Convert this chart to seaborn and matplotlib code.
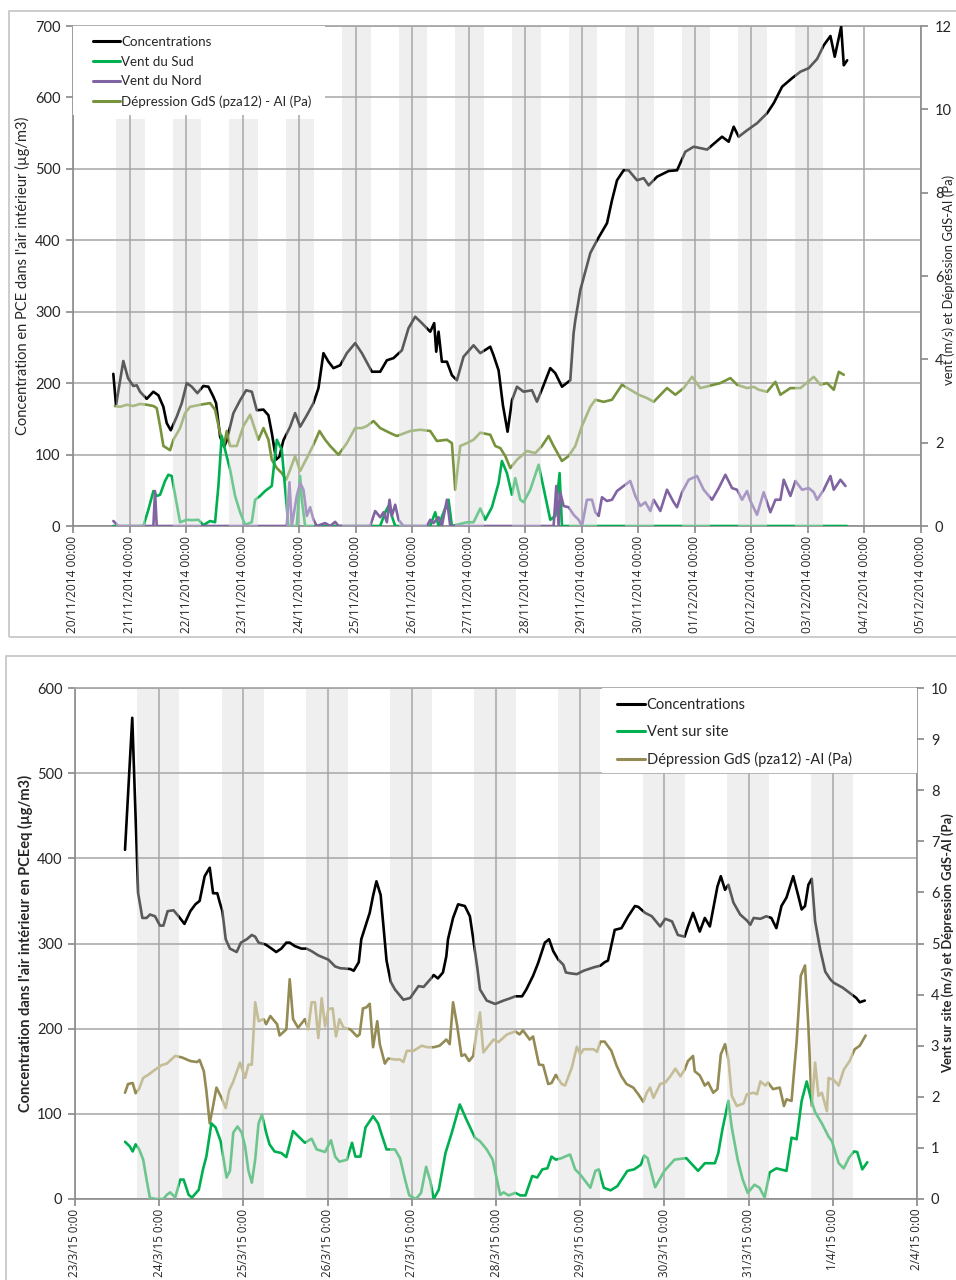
import numpy as np
import pandas as pd
import matplotlib
matplotlib.use("Agg")
import matplotlib.pyplot as plt
import matplotlib.dates as mdates
import seaborn as sns
from matplotlib.path import Path
from matplotlib.transforms import blended_transform_factory
from matplotlib.lines import Line2D
from matplotlib.patches import Rectangle

sns.set_theme(style="white")
plt.rcParams["font.family"] = ["Lato", "DejaVu Sans"]

# ---------------------------------------------------------------- data (top)
top_start = "2014-11-20"
top_xmin, top_xmax = "2014-11-20", "2014-12-05"
top_band_days = ["2014-11-%02d" % d for d in range(21, 31)] + ["2014-12-01", "2014-12-02", "2014-12-03"]

top_conc_t = [0.713, 0.761, 0.890, 0.973, 1.067, 1.127, 1.186, 1.304, 1.421, 1.510, 1.598, 1.658, 1.729, 1.835,
              1.924, 2.012, 2.101, 2.200, 2.306, 2.395, 2.483, 2.531, 2.602, 2.673, 2.720, 2.837, 2.956, 3.062,
              3.163, 3.251, 3.368, 3.457, 3.517, 3.593, 3.651, 3.722, 3.841, 3.929, 4.018, 4.136, 4.253, 4.342,
              4.430, 4.519, 4.607, 4.726, 4.844, 4.991, 5.110, 5.287, 5.434, 5.552, 5.669, 5.818, 5.935, 6.053,
              6.172, 6.319, 6.389, 6.425, 6.466, 6.525, 6.614, 6.703, 6.791, 6.908, 7.085, 7.204, 7.381, 7.439,
              7.528, 7.605, 7.687, 7.765, 7.853, 7.970, 8.119, 8.207, 8.324, 8.442, 8.531, 8.650, 8.796, 8.855,
              8.885, 8.944, 8.973, 9.150, 9.269, 9.446, 9.534, 9.623, 9.740, 9.828, 9.977, 10.094, 10.183,
              10.331, 10.536, 10.685, 10.832, 10.979, 11.216, 11.333, 11.481, 11.598, 11.687, 11.775, 11.924,
              12.101, 12.278, 12.395, 12.543, 12.720, 12.867, 13.014, 13.163, 13.280, 13.398, 13.474, 13.588,
              13.634, 13.694]
top_conc_v = [213, 169, 231, 207, 196, 197, 188, 178, 188, 183, 167, 144, 134, 153,
              172, 200, 195, 186, 196, 195, 181, 172, 125, 111, 120, 158, 176, 190,
              188, 162, 163, 155, 130, 93, 97, 120, 139, 158, 139, 155, 172, 193,
              242, 230, 221, 225, 242, 256, 242, 216, 216, 232, 235, 246, 277, 293,
              284, 272, 284, 244, 272, 230, 230, 211, 204, 237, 253, 242, 251, 239,
              218, 169, 132, 176, 195, 188, 190, 174, 197, 221, 214, 195, 204, 270,
              288, 316, 330, 382, 400, 424, 456, 484, 498, 498, 484, 487, 477,
              489, 497, 498, 524, 531, 527, 535, 545, 538, 559, 545, 554,
              564, 578, 592, 615, 627, 636, 641, 654, 673, 686, 657, 699,
              645, 652]

top_sud_t = [0.714, 1.245, 1.333, 1.422, 1.481, 1.540, 1.628, 1.687, 1.746, 1.805, 1.894, 2.012, 2.100, 2.218,
             2.307, 2.425, 2.513, 2.572, 2.631, 2.690, 2.779, 2.867, 2.956, 3.044, 3.162, 3.221, 3.310, 3.398,
             3.516, 3.605, 3.693, 3.770, 3.811, 3.958, 4.018, 4.047, 4.106, 5.434, 5.522, 5.581, 5.640, 5.699,
             6.319, 6.407, 6.466, 6.555, 6.643, 6.702, 6.968, 7.085, 7.204, 7.292, 7.410, 7.528, 7.587, 7.676,
             7.764, 7.823, 7.912, 7.971, 8.088, 8.236, 8.324, 8.442, 8.531, 8.607, 8.649, 13.69]
top_sud_v = [0, 0, 0.39, 0.84, 0.72, 0.75, 1.08, 1.23, 1.20, 0.75, 0.09, 0.15, 0.14, 0.15,
             0.02, 0.12, 0.09, 0.96, 2.16, 1.83, 1.35, 0.72, 0.33, 0.03, 0.09, 0.63, 0.72, 0.84,
             0.96, 2.07, 1.83, 0.63, 0, 0, 1.20, 0.63, 0, 0, 0.33, 0.48, 0.24, 0,
             0, 0.33, 0, 0.33, 0.63, 0, 0.09, 0.09, 0.42, 0.15, 0.45, 1.03, 1.56, 1.27,
             0.75, 1.15, 0.63, 0.57, 0.87, 1.47, 0.91, 0.15, 0.24, 1.27, 0, 0]

top_nord_t = [0.714, 0.802, 1.422, 1.451, 1.481, 3.782, 3.829, 3.870, 3.958, 4.018, 4.077, 4.136, 4.195, 4.254,
              4.313, 4.460, 4.549, 4.637, 4.696, 5.257, 5.345, 5.434, 5.493, 5.552, 5.599, 5.640, 5.699, 5.758,
              5.847, 6.260, 6.319, 6.378, 6.466, 6.525, 6.614, 6.673, 8.501, 8.549, 8.590, 8.619, 8.678, 8.767,
              8.855, 8.944, 9.003, 9.091, 9.180, 9.239, 9.298, 9.357, 9.445, 9.534, 9.623, 9.740, 9.858, 9.947,
              10.035, 10.124, 10.212, 10.271, 10.389, 10.507, 10.625, 10.684, 10.773, 10.891, 11.038, 11.156,
              11.304, 11.422, 11.540, 11.658, 11.746, 11.835, 11.923, 11.982, 12.100, 12.218, 12.336, 12.425,
              12.513, 12.572, 12.690, 12.779, 12.897, 13.015, 13.103, 13.162, 13.280, 13.398, 13.457, 13.575,
              13.664]
top_nord_v = [0.12, 0, 0, 0.84, 0, 0, 1.05, 0, 0.72, 1.03, 0.87, 0.24, 0.45, 0.15,
              0, 0.07, 0, 0.10, 0, 0, 0.36, 0.21, 0.33, 0.09, 0.63, 0.24, 0.51, 0.15,
              0, 0, 0.15, 0.07, 0.21, 0, 0.63, 0, 0, 0.96, 0, 0.81, 0.48, 0.45,
              0.27, 0.15, 0, 0.63, 0.63, 0.33, 0.24, 0.69, 0.60, 0.63, 0.84, 0.96, 1.08, 0.72,
              0.48, 0.57, 0.36, 0.63, 0.36, 0.87, 0.57, 0.45, 0.81, 1.11, 1.20, 0.87,
              0.63, 0.91, 1.23, 0.91, 0.87, 0.63, 0.84, 0.60, 0.27, 0.81, 0.33, 0.63,
              0.63, 1.11, 0.72, 1.08, 0.87, 0.91, 0.81, 0.63, 0.87, 1.20, 0.87, 1.11,
              0.96]

top_dep_t = [0.743, 0.832, 0.950, 1.068, 1.186, 1.304, 1.422, 1.481, 1.540, 1.599, 1.717, 1.776, 1.894, 1.982,
             2.071, 2.248, 2.425, 2.513, 2.602, 2.673, 2.720, 2.779, 2.897, 3.015, 3.133, 3.221, 3.280, 3.369,
             3.457, 3.516, 3.605, 3.693, 3.770, 3.841, 3.929, 4.018, 4.136, 4.254, 4.360, 4.460, 4.549, 4.696,
             4.844, 4.991, 5.109, 5.198, 5.316, 5.434, 5.611, 5.729, 5.965, 6.142, 6.319, 6.437, 6.614, 6.702,
             6.761, 6.850, 6.968, 7.085, 7.204, 7.381, 7.469, 7.558, 7.646, 7.735, 7.853, 8.030, 8.177, 8.295,
             8.413, 8.501, 8.649, 8.767, 8.885, 9.003, 9.150, 9.239, 9.386, 9.534, 9.711, 9.858, 10.006,
             10.153, 10.271, 10.507, 10.655, 10.802, 10.950, 11.097, 11.333, 11.451, 11.628, 11.746, 11.923,
             12.041, 12.130, 12.277, 12.425, 12.513, 12.690, 12.867, 13.103, 13.221, 13.339, 13.457, 13.546,
             13.634]
top_dep_v = [2.88, 2.86, 2.91, 2.88, 2.93, 2.91, 2.88, 2.83, 2.40, 1.92, 1.82, 2.07, 2.35, 2.71,
             2.86, 2.91, 2.95, 2.79, 2.23, 1.95, 2.28, 1.92, 1.92, 2.40, 2.67, 2.31, 2.07, 2.35,
             2.07, 1.59, 1.39, 1.27, 1.11, 1.35, 1.68, 1.32, 1.63, 1.95, 2.28, 2.07, 1.92, 1.71,
             1.99, 2.35, 2.35, 2.40, 2.52, 2.35, 2.23, 2.16, 2.28, 2.31, 2.28, 2.04, 2.07, 1.99,
             0.87, 1.92, 1.99, 2.07, 2.24, 2.19, 1.92, 1.87, 1.68, 1.39, 1.59, 1.80, 1.75, 1.92,
             2.16, 1.92, 1.56, 1.68, 1.92, 2.40, 2.86, 3.03, 2.98, 3.03, 3.39, 3.27, 3.15,
             3.07, 2.98, 3.31, 3.15, 3.31, 3.58, 3.31, 3.39, 3.43, 3.55, 3.39, 3.31,
             3.34, 3.27, 3.22, 3.46, 3.15, 3.31, 3.31, 3.58, 3.39, 3.43, 3.27, 3.70,
             3.63]

# ---------------------------------------------------------------- data (bottom)
bot_start = "2015-03-23"
bot_xmin, bot_xmax = "2015-03-23", "2015-04-02"
bot_band_days = ["2015-03-%02d" % d for d in range(24, 32)] + ["2015-04-01"]

bot_conc_t = [0.594, 0.68, 0.75, 0.80, 0.85, 0.89, 0.95, 1.01, 1.05, 1.10, 1.17, 1.23, 1.30, 1.37, 1.43, 1.48,
              1.54, 1.60, 1.64, 1.69, 1.72, 1.75, 1.79, 1.84, 1.92, 1.97, 2.04, 2.10, 2.14, 2.18, 2.26, 2.32,
              2.39, 2.45, 2.51, 2.55, 2.61, 2.69, 2.75, 2.81, 2.89, 3.01, 3.09, 3.15, 3.27, 3.31, 3.37, 3.40,
              3.50, 3.54, 3.58, 3.63, 3.66, 3.70, 3.75, 3.80, 3.90, 3.98, 4.08, 4.14, 4.22, 4.26, 4.31, 4.37,
              4.41, 4.43, 4.49, 4.55, 4.63, 4.69, 4.73, 4.78, 4.81, 4.89, 4.99, 5.09, 5.15, 5.23, 5.31, 5.36,
              5.44, 5.50, 5.58, 5.63, 5.68, 5.74, 5.80, 5.83, 5.88, 5.96, 6.04, 6.16, 6.24, 6.29, 6.33, 6.41,
              6.49, 6.57, 6.65, 6.69, 6.77, 6.85, 6.95, 7.01, 7.09, 7.16, 7.24, 7.28, 7.34, 7.42, 7.48, 7.54,
              7.63, 7.67, 7.72, 7.76, 7.82, 7.90, 7.98, 8.02, 8.06, 8.14, 8.21, 8.27, 8.33, 8.39, 8.45, 8.53,
              8.59, 8.63, 8.67, 8.71, 8.75, 8.79, 8.85, 8.91, 8.97, 9.01, 9.12, 9.20, 9.28, 9.32, 9.38]
bot_conc_v = [410, 565, 359, 330, 330, 334, 332, 321, 321, 338, 339, 332, 323, 338, 346, 350,
              379, 389, 359, 359, 348, 338, 305, 294, 290, 301, 305, 310, 308, 301, 299, 295,
              290, 294, 301, 301, 297, 294, 294, 291, 286, 281, 273, 271, 270, 268, 278, 305,
              336, 356, 373, 357, 324, 280, 255, 246, 234, 236, 250, 249, 258, 263, 259, 266,
              285, 305, 330, 346, 344, 332, 305, 270, 246, 233, 229, 233, 235, 238, 238, 246,
              262, 277, 301, 305, 291, 281, 275, 266, 265, 264, 268, 272, 274, 278, 280, 316,
              318, 332, 344, 343, 336, 332, 320, 329, 326, 310, 308, 320, 336, 314, 330, 320,
              367, 379, 363, 369, 348, 334, 327, 322, 330, 329, 332, 330, 318, 344, 354, 379,
              356, 340, 344, 369, 376, 326, 293, 267, 258, 254, 248, 242, 236, 231, 233]

bot_vent_t = [0.594, 0.65, 0.685, 0.72, 0.76, 0.81, 0.85, 0.89, 0.97, 1.05, 1.09, 1.13, 1.19, 1.25, 1.29, 1.35,
              1.39, 1.47, 1.52, 1.56, 1.62, 1.67, 1.73, 1.80, 1.84, 1.88, 1.93, 1.98, 2.02, 2.06, 2.10, 2.14,
              2.18, 2.22, 2.27, 2.31, 2.37, 2.45, 2.51, 2.59, 2.65, 2.73, 2.81, 2.87, 2.97, 3.04, 3.09, 3.14,
              3.23, 3.29, 3.33, 3.39, 3.45, 3.54, 3.60, 3.64, 3.70, 3.80, 3.86, 3.92, 3.97, 4.05, 4.11, 4.17,
              4.22, 4.26, 4.32, 4.40, 4.47, 4.57, 4.65, 4.75, 4.81, 4.89, 4.96, 5.05, 5.09, 5.15, 5.23, 5.29,
              5.35, 5.43, 5.49, 5.55, 5.61, 5.66, 5.71, 5.78, 5.82, 5.88, 5.94, 6.00, 6.12, 6.18, 6.22, 6.28,
              6.36, 6.44, 6.48, 6.56, 6.64, 6.72, 6.76, 6.80, 6.89, 7.00, 7.12, 7.26, 7.40, 7.48, 7.56, 7.60,
              7.64, 7.69, 7.76, 7.80, 7.87, 7.93, 7.99, 8.07, 8.13, 8.19, 8.25, 8.33, 8.45, 8.51, 8.57, 8.63,
              8.69, 8.75, 8.79, 8.87, 8.95, 8.99, 9.07, 9.13, 9.19, 9.25, 9.29, 9.35, 9.41]
bot_vent_v = [1.12, 1.03, 0.93, 1.07, 0.98, 0.77, 0.38, 0.02, 0, 0, 0.08, 0.13, 0.03, 0.38, 0.38, 0.08,
              0.03, 0.18, 0.58, 0.83, 1.48, 1.40, 1.13, 0.42, 0.55, 1.30, 1.42, 1.30, 1.03, 0.55, 0.32, 0.77,
              1.48, 1.65, 1.30, 1.07, 0.93, 0.90, 0.82, 1.33, 1.23, 1.10, 1.18, 0.97, 0.92, 1.15, 0.83, 0.73,
              0.77, 1.10, 0.83, 0.83, 1.40, 1.62, 1.48, 1.27, 0.97, 0.97, 0.80, 0.38, 0.07, 0, 0.12, 0.63,
              0.35, 0, 0.18, 0.90, 1.27, 1.85, 1.55, 1.20, 1.13, 0.97, 0.77, 0.08, 0.13, 0.07, 0.12, 0.07,
              0.07, 0.45, 0.42, 0.58, 0.60, 0.83, 0.77, 0.80, 0.83, 0.87, 0.58, 0.48, 0.22, 0.55, 0.58, 0.22,
              0.17, 0.25, 0.35, 0.55, 0.58, 0.67, 0.85, 0.80, 0.23, 0.55, 0.77, 0.80, 0.55, 0.70, 0.70, 0.70,
              0.90, 1.37, 1.92, 1.40, 0.77, 0.38, 0.12, 0.28, 0.22, 0.03, 0.52, 0.60, 0.55, 1.20, 1.17, 1.92,
              2.30, 1.90, 1.70, 1.48, 1.22, 1.13, 0.70, 0.60, 0.80, 0.93, 0.92, 0.58, 0.72]

bot_dep_t = [0.594, 0.63, 0.685, 0.72, 0.76, 0.81, 0.87, 0.95, 1.03, 1.09, 1.19, 1.27, 1.37, 1.45, 1.48, 1.53,
             1.56, 1.60, 1.64, 1.68, 1.74, 1.79, 1.83, 1.88, 1.96, 2.02, 2.06, 2.10, 2.14, 2.18, 2.24, 2.27,
             2.32, 2.40, 2.43, 2.51, 2.55, 2.59, 2.65, 2.73, 2.77, 2.81, 2.85, 2.89, 2.93, 2.97, 3.01, 3.06,
             3.10, 3.14, 3.19, 3.27, 3.35, 3.38, 3.42, 3.46, 3.50, 3.54, 3.59, 3.62, 3.68, 3.72, 3.80, 3.86,
             3.90, 3.94, 4.02, 4.12, 4.18, 4.26, 4.33, 4.41, 4.45, 4.49, 4.54, 4.59, 4.63, 4.68, 4.73, 4.77,
             4.81, 4.85, 4.97, 5.03, 5.13, 5.23, 5.28, 5.32, 5.40, 5.44, 5.51, 5.56, 5.62, 5.66, 5.71, 5.78,
             5.82, 5.90, 5.96, 6.00, 6.04, 6.16, 6.20, 6.24, 6.29, 6.37, 6.43, 6.49, 6.55, 6.63, 6.69, 6.75,
             6.79, 6.83, 6.87, 6.95, 7.01, 7.07, 7.13, 7.19, 7.24, 7.28, 7.34, 7.36, 7.42, 7.48, 7.52, 7.58,
             7.63, 7.67, 7.72, 7.76, 7.80, 7.86, 7.94, 7.98, 8.06, 8.10, 8.14, 8.20, 8.23, 8.29, 8.37, 8.42,
             8.45, 8.51, 8.57, 8.62, 8.67, 8.71, 8.75, 8.79, 8.83, 8.87, 8.93, 8.95, 9.01, 9.07, 9.13, 9.20,
             9.26, 9.32, 9.39]
bot_dep_v = [2.08, 2.25, 2.27, 2.07, 2.15, 2.37, 2.43, 2.53, 2.62, 2.65, 2.80, 2.77, 2.70, 2.68, 2.72, 2.50,
             2.12, 1.48, 1.82, 2.18, 1.98, 1.78, 2.12, 2.30, 2.67, 2.37, 2.63, 2.63, 3.85, 3.48, 3.52, 3.42,
             3.58, 3.42, 3.20, 3.32, 4.30, 3.52, 3.35, 3.52, 3.32, 3.85, 3.85, 3.15, 3.93, 3.38, 3.72, 3.73,
             3.18, 3.52, 3.35, 3.32, 3.18, 3.22, 3.73, 3.75, 3.82, 2.97, 3.48, 3.03, 2.65, 2.75, 2.73, 2.73,
             2.68, 2.90, 2.90, 3.00, 2.97, 2.97, 3.00, 3.12, 3.03, 3.85, 3.38, 2.80, 2.83, 2.70, 2.80, 3.28,
             3.65, 2.87, 3.12, 3.07, 3.22, 3.28, 3.22, 3.30, 3.12, 3.18, 2.63, 2.62, 2.25, 2.27, 2.43, 2.25,
             2.22, 2.57, 2.98, 2.83, 2.93, 2.93, 2.88, 3.08, 3.08, 2.90, 2.62, 2.40, 2.25, 2.18, 2.05, 1.90,
             2.08, 2.18, 1.98, 2.25, 2.28, 2.40, 2.55, 2.40, 2.53, 2.70, 2.80, 2.50, 2.42, 2.22, 2.28, 2.08,
             2.15, 2.83, 3.03, 2.73, 2.02, 1.82, 1.87, 2.05, 2.08, 2.05, 2.30, 2.22, 2.28, 2.15, 2.18, 1.82,
             1.95, 1.92, 3.07, 4.37, 4.57, 3.38, 1.82, 2.67, 2.02, 2.08, 1.72, 2.37, 2.33, 2.22, 2.53, 2.70,
             2.93, 3.00, 3.20]

# ---------------------------------------------------------------- styles
GRID = "#a6a6a6"
SPINE = "#8c8c8c"
TXT = "#262626"
BAND = "#efefef"
FIG_W, FIG_H = 956, 1280


def band_intervals(days, lo, hi):
    c = mdates.date2num(pd.to_datetime(days))
    return [(x + lo, x + hi) for x in c]


def gaps_of(intervals, xmin, xmax):
    out, cur = [], xmin
    for a, b in intervals:
        out.append((cur, a))
        cur = b
    out.append((cur, xmax))
    return out


def ipath(intervals):
    verts, codes = [], []
    for a, b in intervals:
        verts += [(a, -1), (b, -1), (b, 2), (a, 2), (a, -1)]
        codes += [Path.MOVETO, Path.LINETO, Path.LINETO, Path.LINETO, Path.CLOSEPOLY]
    return Path(verts, codes)


def split_line(ax, start, t, v, dark, light, bands, gaps, lw=1.9, z=3):
    x = pd.Timestamp(start) + pd.to_timedelta(np.asarray(t, dtype=float), unit="D")
    df = pd.DataFrame({"x": x, "y": v})
    trans = blended_transform_factory(ax.transData, ax.transAxes)
    for col, path in ((dark, ipath(gaps)), (light, ipath(bands))):
        sns.lineplot(data=df, x="x", y="y", ax=ax, color=col, lw=lw, sort=False,
                     estimator=None, legend=False)
        ln = ax.lines[-1]
        ln.set_clip_path(path, trans)
        ln.set_zorder(z)
        ln.set_solid_joinstyle("round")


def px_axes(l, r, t, b):
    return [l / FIG_W, 1 - b / FIG_H, (r - l) / FIG_W, (b - t) / FIG_H]


def style_axes(ax, ax2, xsize):
    for a in (ax, ax2):
        for s in ("left", "right", "bottom", "top"):
            a.spines[s].set_visible(False)
    ax.spines["left"].set_visible(True)
    ax.spines["bottom"].set_visible(True)
    ax2.spines["right"].set_visible(True)
    for s in ("left", "bottom"):
        ax.spines[s].set_color(SPINE)
        ax.spines[s].set_linewidth(1.2)
    ax2.spines["right"].set_color(SPINE)
    ax2.spines["right"].set_linewidth(1.2)
    ax.grid(True, color=GRID, lw=1.1)
    ax.set_axisbelow(True)
    ax.tick_params(axis="y", direction="out", length=5, color=SPINE, labelsize=10.5,
                   labelcolor=TXT, left=True, pad=4)
    ax.tick_params(axis="x", direction="out", length=5, color=SPINE, labelsize=xsize,
                   labelcolor=TXT, bottom=True, labelrotation=90, pad=2)
    ax2.tick_params(axis="y", direction="out", length=5, color=SPINE, labelsize=10.5,
                    labelcolor=TXT, right=True, pad=5)
    for lab in ax.get_xticklabels():
        lab.set_family(["Open Sans", "DejaVu Sans"])
    ax.set_xlabel("")
    ax.set_ylabel("")
    ax2.set_xlabel("")
    ax2.set_ylabel("")


fig = plt.figure(figsize=(FIG_W / 100, FIG_H / 100), dpi=100)

# panel frames
fig.patches.append(Rectangle((9 / FIG_W, 1 - 637 / FIG_H), (FIG_W + 5 - 9) / FIG_W, (637 - 11) / FIG_H,
                             transform=fig.transFigure, fill=False, ec="#c8c8c8", lw=1.3))
fig.patches.append(Rectangle((6 / FIG_W, 1 - (FIG_H + 5) / FIG_H), (FIG_W + 5 - 6) / FIG_W, (FIG_H + 5 - 656) / FIG_H,
                             transform=fig.transFigure, fill=False, ec="#c8c8c8", lw=1.3))

# ================================================================ TOP
ax = fig.add_axes(px_axes(73, 921, 26, 526))
ax2 = ax.twinx()
tx0 = mdates.date2num(pd.Timestamp(top_xmin))
tx1 = mdates.date2num(pd.Timestamp(top_xmax))
tb = band_intervals(top_band_days, -0.235, 0.27)
tg = gaps_of(tb, tx0 - 1, tx1 + 1)
for i, (a, b) in enumerate(tb):
    ax.axvspan(a, b, ymin=0, ymax=(570 / 700 if i < 4 else 1), color=BAND, lw=0, zorder=0.5)

split_line(ax, top_start, top_conc_t, top_conc_v, "#000000", "#5a5a5a", tb, tg, z=3)
split_line(ax2, top_start, top_dep_t, top_dep_v, "#77933c", "#a8b985", tb, tg, z=3)
split_line(ax2, top_start, top_sud_t, top_sud_v, "#00b050", "#6fc88f", tb, tg, z=3.1)
split_line(ax2, top_start, top_nord_t, top_nord_v, "#8064a2", "#a897c2", tb, tg, z=3.2)

ax.set_xlim(tx0, tx1)
ax.set_ylim(0, 700)
ax2.set_ylim(0, 12)
ax.set_yticks(np.arange(0, 701, 100))
ax2.set_yticks(np.arange(0, 13, 2))
ax.xaxis.set_major_locator(mdates.DayLocator())
ax.xaxis.set_major_formatter(mdates.DateFormatter("%d/%m/%Y %H:%M"))
style_axes(ax, ax2, 8.6)
ax.spines["top"].set_visible(True)
ax.spines["top"].set_color(GRID)

ax2.add_patch(Rectangle((0, 0.822), 0.297, 0.2, transform=ax2.transAxes, fc="white", ec="none", zorder=4))
h_top = [Line2D([], [], color=c, lw=2.2) for c in ("#000000", "#00b050", "#8064a2", "#77933c")]
leg = ax2.legend(h_top, ["Concentrations", "Vent du Sud", "Vent du Nord", "Dépression GdS (pza12) - AI (Pa)"],
                 loc="upper left", bbox_to_anchor=(0.012, 1.0), frameon=False, fontsize=9.6,
                 handlelength=2.0, handletextpad=0.1, labelspacing=0.58, borderaxespad=0.35)
leg.set_zorder(5)
for t in leg.get_texts():
    t.set_color(TXT)

fig.text(22 / FIG_W, 1 - 276 / FIG_H, "Concentration en PCE dans l'air intérieur (µg/m3)", rotation=90,
         ha="center", va="center", fontsize=10.5, color=TXT)
fig.text(942 / FIG_W, 1 - 280 / FIG_H, "vent (m/s) et Dépression GdS-AI (Pa)", rotation=90,
         ha="left", va="center", fontsize=9.4, color=TXT)

# ================================================================ BOTTOM
bx = fig.add_axes(px_axes(75, 917, 688, 1199))
bx2 = bx.twinx()
bx0 = mdates.date2num(pd.Timestamp(bot_xmin))
bx1 = mdates.date2num(pd.Timestamp(bot_xmax))
bb = band_intervals(bot_band_days, -0.26, 0.24)
bg = gaps_of(bb, bx0 - 1, bx1 + 1)
for a, b in bb:
    bx.axvspan(a, b, color=BAND, lw=0, zorder=0.5)

split_line(bx, bot_start, bot_conc_t, bot_conc_v, "#000000", "#5a5a5a", bb, bg, z=3)
split_line(bx2, bot_start, bot_dep_t, bot_dep_v, "#948a54", "#c4bd97", bb, bg, z=3)
split_line(bx2, bot_start, bot_vent_t, bot_vent_v, "#00b050", "#6cc58d", bb, bg, z=3.1)

bx.set_xlim(bx0, bx1)
bx.set_ylim(0, 600)
bx2.set_ylim(0, 10)
bx.set_yticks(np.arange(0, 601, 100))
bx2.set_yticks(np.arange(0, 11, 1))
bx.xaxis.set_major_locator(mdates.DayLocator())
bx.xaxis.set_major_formatter(mdates.DateFormatter("%-d/%-m/%y %-H:%M"))
style_axes(bx, bx2, 8.4)
bx.spines["top"].set_visible(True)
bx.spines["top"].set_color(GRID)

bx2.add_patch(Rectangle((0.626, 0.834), 0.374, 0.166, transform=bx2.transAxes, fc="white", ec="none", zorder=4))
h_bot = [Line2D([], [], color=c, lw=2.2) for c in ("#000000", "#00b050", "#948a54")]
leg2 = bx2.legend(h_bot, ["Concentrations", "Vent sur site", "Dépression GdS (pza12) -AI (Pa)"],
                  loc="upper left", bbox_to_anchor=(0.632, 1.0), frameon=False, fontsize=10.5,
                  handlelength=1.9, handletextpad=0.1, labelspacing=0.88, borderaxespad=0.3)
leg2.set_zorder(5)
for t in leg2.get_texts():
    t.set_color(TXT)

fig.text(25 / FIG_W, 1 - 943 / FIG_H, "Concentration dans l'air intérieur en PCEeq (µg/m3)", rotation=90,
         ha="center", va="center", fontsize=10.5, color=TXT, fontweight="bold")
fig.text(941 / FIG_W, 1 - 943 / FIG_H, "Vent sur site (m/s) et Dépression GdS-AI (Pa)", rotation=90,
         ha="left", va="center", fontsize=9.4, color=TXT, fontweight="bold")

fig.savefig("out.png", dpi=100, facecolor="white")
